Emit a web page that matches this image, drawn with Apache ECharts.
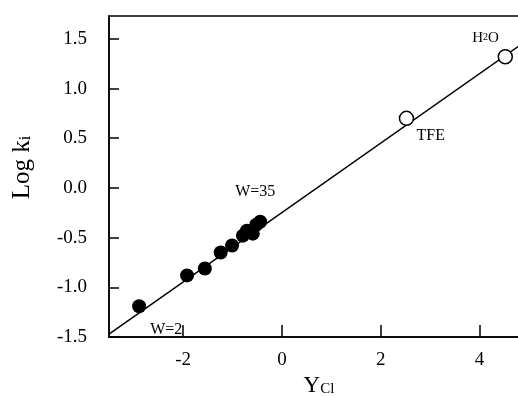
<!DOCTYPE html>
<html>
<head>
<meta charset="utf-8">
<script src="https://cdn.jsdelivr.net/npm/echarts@6/dist/echarts.min.js"></script>
<style>html,body{margin:0;padding:0;background:#fff}#c{width:518px;height:396px}</style>
</head>
<body>
<div id="c"></div>
<script>
// Filled points (water-organic mixtures, W = 2 ... 35)
var filledX = [-2.89, -1.92, -1.56, -1.24, -1.01, -0.79, -0.71, -0.59, -0.52, -0.44];
var filledY = [-1.19, -0.88, -0.81, -0.65, -0.58, -0.48, -0.43, -0.46, -0.37, -0.34];
// Open points (pure solvents)
var openNames = ['TFE', 'H2O'];
var openX = [2.52, 4.52];
var openY = [0.70, 1.32];
// Regression line end points
var fitX = [-3.5, 5.0];
var fitY = [-1.47, 1.50];
// Ticks
var xTicks = [-2, 0, 2, 4];
var yTicks = [-1.5, -1.0, -0.5, 0.0, 0.5, 1.0, 1.5];

var FONT = "'Liberation Serif', 'Times New Roman', serif";

function zip(a, b) { return a.map(function (v, i) { return [v, b[i]]; }); }

var filledData = zip(filledX, filledY).map(function (p, i) {
  var d = { value: p };
  if (i === 0) {
    d.label = { show: true, formatter: 'W=2', position: 'inside', align: 'left', verticalAlign: 'middle', offset: [11, 24] };
  }
  if (i === filledX.length - 1) {
    d.label = { show: true, formatter: 'W=35', position: 'inside', align: 'left', verticalAlign: 'middle', offset: [-25, -30] };
  }
  return d;
});

var openOffsets = [[10, 17], [-33, -19]];
var openData = zip(openX, openY).map(function (p, i) {
  var fmt = openNames[i] === 'H2O' ? '{a|H}{s|2}{a|O}' : openNames[i];
  return {
    value: p,
    label: {
      show: true, formatter: fmt, position: 'inside', align: 'left', verticalAlign: 'middle',
      offset: openOffsets[i],
      rich: { a: { fontFamily: FONT, fontSize: 15, color: '#000' }, s: { fontFamily: FONT, fontSize: 10, color: '#000' } }
    }
  };
});

var chart = echarts.init(document.getElementById('c'), null, { renderer: 'canvas' });
chart.setOption({
  animation: false,
  backgroundColor: '#fff',
  grid: { left: 109, top: 16, right: -11, bottom: 59, containLabel: false, outerBoundsMode: 'none',
    show: true, borderColor: '#000', borderWidth: 1.5, backgroundColor: 'transparent' },
  xAxis: {
    type: 'value', min: -3.5, max: 5,
    splitLine: { show: false },
    axisLine: { show: true, onZero: false, lineStyle: { color: '#000', width: 1.5 } },
    axisTick: { show: true, inside: true, length: 12, customValues: xTicks, lineStyle: { color: '#000', width: 1.5 } },
    axisLabel: { customValues: xTicks, color: '#000', fontFamily: FONT, fontSize: 19, margin: 14 },
    name: '{a|Y}{b|Cl}',
    nameLocation: 'middle', nameGap: 37,
    nameTextStyle: { rich: { a: { fontFamily: FONT, fontSize: 23, color: '#000' }, b: { fontFamily: FONT, fontSize: 15, color: '#000', padding: [5, 0, 0, 0] } } }
  },
  yAxis: {
    type: 'value', min: -1.5, max: 1.73,
    splitLine: { show: false },
    axisLine: { show: true, onZero: false, lineStyle: { color: '#000', width: 1.5 } },
    axisTick: { show: true, inside: true, length: 10, customValues: yTicks, lineStyle: { color: '#000', width: 1.5 } },
    axisLabel: { customValues: yTicks, color: '#000', fontFamily: FONT, fontSize: 19, margin: 22,
      formatter: function (v) { return v.toFixed(1); } },
    name: '{a|Log k}{b|i}',
    nameLocation: 'middle', nameGap: 74, nameRotate: 90,
    nameTextStyle: { padding: [0, 0, 0, 18], rich: { a: { fontFamily: FONT, fontSize: 25, color: '#000' }, b: { fontFamily: FONT, fontSize: 16, color: '#000', padding: [6, 0, 0, 0] } } }
  },
  series: [
    {
      type: 'line', data: zip(fitX, fitY), showSymbol: false, symbol: 'none',
      lineStyle: { color: '#000', width: 1.5 }, z: 1, silent: true
    },
    {
      type: 'scatter', data: filledData, symbol: 'circle', symbolSize: 14,
      itemStyle: { color: '#000', opacity: 1 }, z: 3,
      label: { color: '#000', fontFamily: FONT, fontSize: 16 }
    },
    {
      type: 'scatter', data: openData, symbol: 'circle', symbolSize: 14,
      itemStyle: { color: '#fff', borderColor: '#000', borderWidth: 1.5, opacity: 1 }, z: 3,
      label: { color: '#000', fontFamily: FONT, fontSize: 16 }
    }
  ]
});
</script>
</body>
</html>
